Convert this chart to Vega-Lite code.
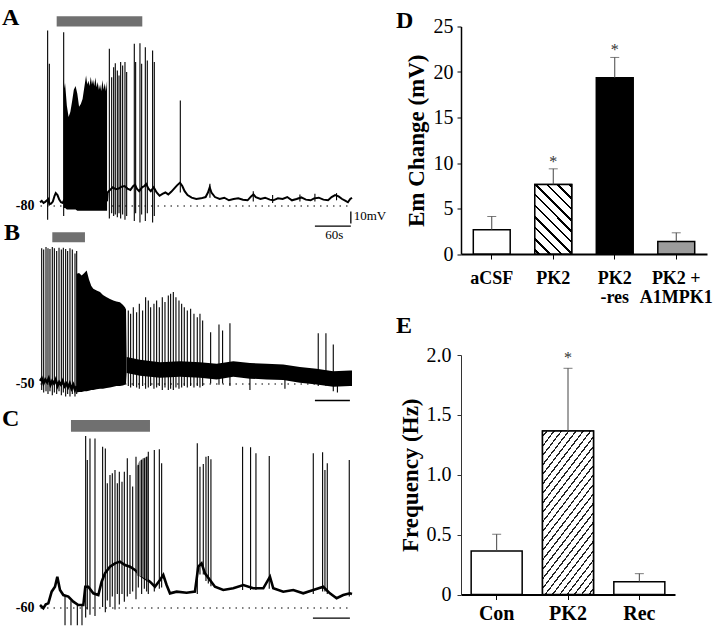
{
  "$schema": "https://vega.github.io/schema/vega-lite/v6.json",
  "padding": {"left": 2, "top": 5.5, "right": 2, "bottom": 0},
  "background": "#ffffff",
  "config": {"view": {"stroke": null}, "font": "Liberation Serif"},
  "spacing": 9,
  "hconcat": [
    {
      "bounds": "flush",
      "spacing": 10,
      "vconcat": [
        {
          "width": 312, "height": 192,
          "title": {"text": "A", "anchor": "start", "frame": "group", "dx": -38, "dy": 33.1, "offset": 0, "baseline": "alphabetic", "fontSize": 24, "font": "Liberation Serif", "fontWeight": "bold", "color": "#000"},
          "encoding": {
            "x": {"field": "t", "type": "quantitative", "scale": {"domain": [0, 535], "nice": false, "zero": false}, "axis": null},
            "y": {"field": "v", "type": "quantitative", "scale": {"domain": [-90, 57.69], "nice": false, "zero": false}, "axis": {"values": [-80], "title": null, "domain": false, "ticks": false, "tickSize": 0, "grid": true, "gridDash": [1.5, 5], "gridColor": "#000", "gridWidth": 1.2, "labelExpr": "'' + datum.value", "labelFont": "Liberation Serif", "labelFontSize": 14, "labelFontWeight": "bold", "labelColor": "#000", "labelPadding": 6}}
          },
          "layer": [
            {"data": {"values": [
              {"t":0,"v":-77.5},{"t":3,"v":-76.5},{"t":6,"v":-78},{"t":9,"v":-77.2},{"t":12,"v":-76},{"t":14,"v":-75},{"t":16,"v":-79},{"t":19,"v":-78.5},{"t":22,"v":-77},{"t":25,"v":-72.5},{"t":27,"v":-70.5},{"t":30,"v":-72},{"t":33,"v":-75.5},{"t":36,"v":-77.5},{"t":39,"v":-78},{"t":41,"v":-76},{"t":60,"v":-78},{"t":90,"v":-78},{"t":115,"v":-76},
              {"t":116,"v":-70},{"t":120,"v":-68},{"t":125,"v":-66},{"t":130,"v":-67.5},{"t":135,"v":-67},{"t":140,"v":-65.5},{"t":145,"v":-65},{"t":150,"v":-67},{"t":155,"v":-68},{"t":160,"v":-65},{"t":163,"v":-64},{"t":166,"v":-67},{"t":170,"v":-69},{"t":175,"v":-66},{"t":179,"v":-65},{"t":182,"v":-63.5},{"t":186,"v":-67},{"t":190,"v":-69},{"t":195,"v":-66},{"t":200,"v":-70},{"t":205,"v":-72.5},{"t":210,"v":-71},{"t":215,"v":-70},{"t":220,"v":-71.5},{"t":225,"v":-69.5},{"t":230,"v":-67},{"t":235,"v":-64.5},{"t":240,"v":-62.5},{"t":244,"v":-65},{"t":248,"v":-69},{"t":253,"v":-72},{"t":260,"v":-74},{"t":268,"v":-75},{"t":276,"v":-74.5},{"t":284,"v":-73.5},{"t":288,"v":-70},{"t":291,"v":-66},{"t":294,"v":-70},{"t":300,"v":-73.5},{"t":308,"v":-75},{"t":316,"v":-74},{"t":324,"v":-76},{"t":332,"v":-75},{"t":340,"v":-74.5},{"t":348,"v":-75.5},{"t":356,"v":-76},{"t":362,"v":-73},{"t":366,"v":-71.5},{"t":370,"v":-73.5},{"t":378,"v":-75},{"t":386,"v":-74},{"t":394,"v":-75.5},{"t":400,"v":-76},{"t":408,"v":-74.5},{"t":416,"v":-75},{"t":424,"v":-73.5},{"t":432,"v":-76},{"t":440,"v":-75},{"t":448,"v":-73.8},{"t":456,"v":-75.5},{"t":464,"v":-76},{"t":470,"v":-74.5},{"t":478,"v":-74},{"t":486,"v":-75.5},{"t":494,"v":-76},{"t":500,"v":-73.5},{"t":506,"v":-72},{"t":512,"v":-73},{"t":518,"v":-75},{"t":524,"v":-76.5},{"t":528,"v":-77.5},{"t":532,"v":-75},{"t":535,"v":-74}
            ]}, "mark": {"type": "line", "color": "#000", "strokeWidth": 2}},
            {"data": {"values": [
              {"t":40.6,"v":-82,"v2":18},{"t":42,"v":-82,"v2":10},{"t":43,"v":-82,"v2":14},{"t":46,"v":-83,"v2":-3},{"t":49,"v":-83,"v2":-12},{"t":52,"v":-83,"v2":-8},{"t":55,"v":-83,"v2":0},{"t":58,"v":-83,"v2":9},{"t":61,"v":-83,"v2":12},{"t":64,"v":-84,"v2":6},{"t":67,"v":-84,"v2":-4},{"t":70,"v":-84,"v2":-2},{"t":73,"v":-84,"v2":2},{"t":76,"v":-84,"v2":11},{"t":79,"v":-84,"v2":20},{"t":81,"v":-84,"v2":13},{"t":83,"v":-84,"v2":16},{"t":85,"v":-84,"v2":12},{"t":87,"v":-84,"v2":19},{"t":89,"v":-84,"v2":13},{"t":91,"v":-84,"v2":17},{"t":93,"v":-84,"v2":12},{"t":95,"v":-84,"v2":18.5},{"t":97,"v":-84,"v2":11},{"t":99,"v":-84,"v2":15},{"t":101,"v":-84,"v2":9},{"t":103,"v":-84,"v2":13},{"t":105,"v":-84,"v2":8},{"t":107,"v":-84,"v2":16.5},{"t":109,"v":-84,"v2":9},{"t":111,"v":-84,"v2":14},{"t":113,"v":-84,"v2":8},{"t":115,"v":-84,"v2":16}
            ]}, "mark": {"type": "area", "color": "#000"}, "encoding": {"y2": {"field": "v2"}}},
            {"data": {"values": [
              {"t":13.1,"v":-91,"v2":54.6},{"t":16,"v":-80,"v2":29},{"t":40.6,"v":-88,"v2":53.3},
              {"t":118.9,"v":-90,"v2":40.5},{"t":122.9,"v":-86,"v2":18.7},{"t":126.3,"v":-88,"v2":26.4},{"t":129.1,"v":-87,"v2":29.5},{"t":132.6,"v":-89,"v2":23.9},{"t":135.5,"v":-86,"v2":20},{"t":138.3,"v":-90,"v2":30.3},{"t":141.7,"v":-87,"v2":27.7},{"t":145.7,"v":-91,"v2":30.3},{"t":148.6,"v":-88,"v2":22.6},
              {"t":161.7,"v":-92,"v2":44.4},{"t":164,"v":-86,"v2":30.3},{"t":171.4,"v":-93,"v2":44.9},{"t":174.3,"v":-87,"v2":29},{"t":180.6,"v":-92,"v2":41.8},{"t":184,"v":-86,"v2":31.5},{"t":193.1,"v":-93,"v2":39.2},{"t":196,"v":-88,"v2":30.3},
              {"t":240.6,"v":-70,"v2":0.8},{"t":291.4,"v":-74,"v2":-63.3},{"t":365.7,"v":-77,"v2":-69},{"t":398.9,"v":-78,"v2":-72},{"t":445.7,"v":-77,"v2":-71.5},{"t":471.4,"v":-77,"v2":-71},{"t":508.5,"v":-76,"v2":-70.5}
            ]}, "mark": {"type": "rule", "color": "#000", "strokeWidth": 1.1}, "encoding": {"y2": {"field": "v2"}}},
            {"data": {"values": [{"t":28.6,"t2":175.4,"v":57.7,"v2":65.6}]}, "mark": {"type": "rect", "color": "#707070"}, "encoding": {"x2": {"field": "t2"}, "y2": {"field": "v2"}}},
            {"data": {"values": [{"t":533,"t2":533,"v":-84.6,"v2":-93.8},{"t":471.4,"t2":533,"v":-95.9,"v2":-95.9}]}, "mark": {"type": "rule", "color": "#000", "strokeWidth": 1.3}, "encoding": {"x2": {"field": "t2"}, "y2": {"field": "v2"}}},
            {"data": {"values": [{"t":538,"v":-91,"label":"10mV"},{"t":489,"v":-105.4,"label":"60s"}]}, "mark": {"type": "text", "align": "left", "baseline": "alphabetic", "fontSize": 13, "font": "Liberation Serif", "color": "#000"}, "encoding": {"text": {"field": "label"}}}
          ]
        },
        {
          "width": 312, "height": 180,
          "title": {"text": "B", "anchor": "start", "frame": "group", "dx": -36, "dy": 35.5, "offset": 0, "baseline": "alphabetic", "fontSize": 24, "font": "Liberation Serif", "fontWeight": "bold", "color": "#000"},
          "encoding": {
            "x": {"field": "t", "type": "quantitative", "scale": {"domain": [0, 535], "nice": false, "zero": false}, "axis": null},
            "y": {"field": "v", "type": "quantitative", "scale": {"domain": [-69.25, 69.25], "nice": false, "zero": false}, "axis": {"values": [-50], "title": null, "domain": false, "ticks": false, "tickSize": 0, "grid": true, "gridDash": [1.5, 5], "gridColor": "#000", "gridWidth": 1.2, "labelExpr": "'' + datum.value", "labelFont": "Liberation Serif", "labelFontSize": 14, "labelFontWeight": "bold", "labelColor": "#000", "labelPadding": 6}}
          },
          "layer": [
            {"data": {"values": [
              {"t":0,"v":-48},{"t":3,"v":-46},{"t":6,"v":-50},{"t":9,"v":-47},{"t":12,"v":-49},{"t":15,"v":-46},{"t":18,"v":-51},{"t":21,"v":-48},{"t":24,"v":-50},{"t":27,"v":-47},{"t":30,"v":-52},{"t":33,"v":-49},{"t":36,"v":-51},{"t":39,"v":-48},{"t":42,"v":-52},{"t":45,"v":-50},{"t":48,"v":-53},{"t":51,"v":-50},{"t":54,"v":-54},{"t":57,"v":-51},{"t":60,"v":-55},{"t":63,"v":-52}
            ]}, "mark": {"type": "line", "color": "#000", "strokeWidth": 2.5}},
            {"data": {"values": [
              {"t":62.9,"v":-57,"v2":34.4},{"t":67,"v":-56.5,"v2":35},{"t":71.4,"v":-56.5,"v2":33.1},{"t":76,"v":-56,"v2":35},{"t":80,"v":-56,"v2":37},{"t":84,"v":-55.5,"v2":30},{"t":88,"v":-55,"v2":25},{"t":91.4,"v":-55,"v2":22.8},{"t":97,"v":-54.5,"v2":21.5},{"t":102.9,"v":-54,"v2":20.3},{"t":108,"v":-54,"v2":18},{"t":114.3,"v":-53.5,"v2":16.4},{"t":120,"v":-53,"v2":15},{"t":125.7,"v":-52.5,"v2":13.8},{"t":131,"v":-52,"v2":13},{"t":137.1,"v":-52,"v2":12.6},{"t":142,"v":-51.5,"v2":10.5},{"t":145.7,"v":-51,"v2":8.7},{"t":147.5,"v":-50,"v2":7},{"t":148.5,"v":-42,"v2":-29.7}
            ]}, "mark": {"type": "area", "color": "#000"}, "encoding": {"y2": {"field": "v2"}}},
            {"data": {"values": [
              {"t":148.6,"v":-42,"v2":-29.7},{"t":171.4,"v":-44,"v2":-31.8},{"t":205.7,"v":-45.6,"v2":-33.6},{"t":240,"v":-44.8,"v2":-32.8},{"t":274.3,"v":-45.6,"v2":-33.6},{"t":302.9,"v":-46.9,"v2":-34.9},{"t":331.4,"v":-44.8,"v2":-32.8},{"t":360,"v":-46.3,"v2":-34.3},{"t":388.6,"v":-46.9,"v2":-34.9},{"t":417.1,"v":-47.4,"v2":-35.4},{"t":445.7,"v":-49.4,"v2":-37.4},{"t":474.3,"v":-50.7,"v2":-38.7},{"t":502.9,"v":-52.5,"v2":-40.5},{"t":531.4,"v":-52,"v2":-40},{"t":535,"v":-52,"v2":-40}
            ]}, "mark": {"type": "area", "color": "#000"}, "encoding": {"y2": {"field": "v2"}}},
            {"data": {"values": [
              {"t":2.9,"v":-55,"v2":54},{"t":6.3,"v":-57,"v2":53},{"t":10.3,"v":-56,"v2":55},{"t":13.7,"v":-58,"v2":54},{"t":17.1,"v":-56,"v2":53.5},{"t":21.1,"v":-59,"v2":55},{"t":24.6,"v":-57,"v2":54},{"t":28.6,"v":-58,"v2":52},{"t":32.6,"v":-56,"v2":54.5},{"t":36.6,"v":-59,"v2":53},{"t":40,"v":-57,"v2":54.5},{"t":44,"v":-60,"v2":53.5},{"t":47.4,"v":-58,"v2":52},{"t":51.4,"v":-60,"v2":54},{"t":55.4,"v":-58,"v2":53},{"t":60,"v":-60,"v2":50},{"t":62.9,"v":-58,"v2":52},
              {"t":151.4,"v":-52,"v2":6.2},{"t":155.4,"v":-53,"v2":3.6},{"t":160,"v":-52,"v2":8.7},{"t":165.7,"v":-53,"v2":4.9},{"t":170.3,"v":-54,"v2":11.3},{"t":176,"v":-52,"v2":6.2},{"t":181.1,"v":-54,"v2":16.4},{"t":185.7,"v":-53,"v2":13.8},{"t":189.7,"v":-52,"v2":8.7},{"t":195.4,"v":-54,"v2":11.3},{"t":200,"v":-53,"v2":13.8},{"t":204.6,"v":-52,"v2":8.7},{"t":209.7,"v":-55,"v2":16.4},{"t":214.3,"v":-53,"v2":12.6},{"t":220,"v":-55,"v2":17.7},{"t":224,"v":-54,"v2":19},{"t":228.6,"v":-55,"v2":20.3},{"t":233.1,"v":-53,"v2":16.4},{"t":238.3,"v":-54,"v2":13.8},{"t":242.9,"v":-53,"v2":11.3},{"t":247.4,"v":-52,"v2":8.7},{"t":252.6,"v":-53,"v2":6.2},{"t":258.3,"v":-52,"v2":7.5},{"t":264,"v":-53,"v2":3.6},{"t":269.7,"v":-52,"v2":1},{"t":274.3,"v":-53,"v2":3.6},{"t":278.9,"v":-52,"v2":-1.5},{"t":292.6,"v":-50,"v2":-10.5},{"t":306.9,"v":-51,"v2":-4.6},{"t":313.1,"v":-50,"v2":-9.2},{"t":325.7,"v":-52,"v2":-3.6},{"t":360,"v":-55,"v2":-40},{"t":420,"v":-54,"v2":-40},{"t":477.1,"v":-52,"v2":-11.3},{"t":490.3,"v":-52,"v2":-11.3},{"t":502.9,"v":-56,"v2":-20},{"t":510,"v":-57,"v2":-45}
            ]}, "mark": {"type": "rule", "color": "#000", "strokeWidth": 1.1}, "encoding": {"y2": {"field": "v2"}}},
            {"data": {"values": [{"t":21.1,"t2":77.1,"v":58.7,"v2":66.4}]}, "mark": {"type": "rect", "color": "#707070"}, "encoding": {"x2": {"field": "t2"}, "y2": {"field": "v2"}}},
            {"data": {"values": [{"t":471.4,"t2":531.4,"v":-63.1,"v2":-63.1}]}, "mark": {"type": "rule", "color": "#000", "strokeWidth": 1.3}, "encoding": {"x2": {"field": "t2"}, "y2": {"field": "v2"}}}
          ]
        },
        {
          "width": 312, "height": 208,
          "title": {"text": "C", "anchor": "start", "frame": "group", "dx": -38, "dy": 31.5, "offset": 0, "baseline": "alphabetic", "fontSize": 24, "font": "Liberation Serif", "fontWeight": "bold", "color": "#000"},
          "encoding": {
            "x": {"field": "t", "type": "quantitative", "scale": {"domain": [0, 535], "nice": false, "zero": false}, "axis": null},
            "y": {"field": "v", "type": "quantitative", "scale": {"domain": [-75, 85], "nice": false, "zero": false}, "axis": {"values": [-60], "title": null, "domain": false, "ticks": false, "tickSize": 0, "grid": true, "gridDash": [1.5, 5], "gridColor": "#000", "gridWidth": 1.2, "labelExpr": "'' + datum.value", "labelFont": "Liberation Serif", "labelFontSize": 14, "labelFontWeight": "bold", "labelColor": "#000", "labelPadding": 6}}
          },
          "layer": [
            {"data": {"values": [
              {"t":0,"v":-58.5},{"t":5.7,"v":-61},{"t":10,"v":-58},{"t":14.3,"v":-57.2},{"t":20,"v":-48.2},{"t":25.7,"v":-44.4},{"t":29.7,"v":-36.7},{"t":34.3,"v":-46.9},{"t":40,"v":-50.8},{"t":48.6,"v":-52},{"t":57.1,"v":-55.9},{"t":65.7,"v":-58.5},{"t":74.3,"v":-58.5},{"t":77.7,"v":-44.4},{"t":82.9,"v":-44.4},{"t":91.4,"v":-49.5},{"t":100,"v":-50.8},{"t":105.7,"v":-40.5},{"t":111.4,"v":-34.1},{"t":120,"v":-29},{"t":128.6,"v":-26.4},{"t":137.1,"v":-25.1},{"t":145.7,"v":-27.7},{"t":154.3,"v":-29},{"t":162.9,"v":-31.5},{"t":171.4,"v":-35.4},{"t":180,"v":-38},{"t":188.6,"v":-40.5},{"t":197.1,"v":-44.4},{"t":205.7,"v":-39.2},{"t":211.4,"v":-35.4},{"t":217.1,"v":-43.1},{"t":222.9,"v":-49.5},{"t":234.3,"v":-48.2},{"t":251.4,"v":-49},{"t":265.7,"v":-48.2},{"t":271.4,"v":-29},{"t":277.1,"v":-26.4},{"t":282.9,"v":-34.1},{"t":291.4,"v":-39.2},{"t":300,"v":-44.4},{"t":314.3,"v":-46.9},{"t":331.4,"v":-45.6},{"t":348.6,"v":-43.1},{"t":365.7,"v":-45.6},{"t":382.9,"v":-45.6},{"t":394.3,"v":-36.7},{"t":400,"v":-45.6},{"t":417.1,"v":-48.2},{"t":434.3,"v":-46.9},{"t":451.4,"v":-49.5},{"t":468.6,"v":-46.9},{"t":485.7,"v":-44.4},{"t":497.1,"v":-49.5},{"t":508.6,"v":-53.3},{"t":520,"v":-50.8},{"t":531.4,"v":-49.5},{"t":535,"v":-50}
            ]}, "mark": {"type": "line", "color": "#000", "strokeWidth": 2.6}},
            {"data": {"values": [
              {"t":166,"v":-36,"v2":48},{"t":170,"v":-36,"v2":52},{"t":175,"v":-37,"v2":54},{"t":180,"v":-38,"v2":55},{"t":185,"v":-40,"v2":56}
            ]}, "mark": {"type": "area", "color": "#8a8a8a"}, "encoding": {"y2": {"field": "v2"}}},
            {"data": {"values": [
              {"t":42.9,"v":-74,"v2":-51},{"t":53.1,"v":-74,"v2":-55},{"t":64,"v":-74,"v2":-58},{"t":72,"v":-74,"v2":-58.5},
              {"t":78.3,"v":-68,"v2":71.5},{"t":81.1,"v":-62,"v2":53.1},{"t":85.7,"v":-66,"v2":69.7},{"t":94.3,"v":-67,"v2":69.7},{"t":107.4,"v":-60,"v2":63.3},{"t":112,"v":-64,"v2":62},{"t":115.4,"v":-55,"v2":35.1},{"t":120,"v":-60,"v2":41.5},{"t":124,"v":-52,"v2":42.8},{"t":128.6,"v":-62,"v2":45.4},{"t":132.6,"v":-50,"v2":35.1},{"t":136,"v":-58,"v2":44.1},{"t":140.6,"v":-50,"v2":36.4},{"t":144.6,"v":-56,"v2":44.1},{"t":149.7,"v":-52,"v2":54.4},{"t":154.3,"v":-50,"v2":41.5},{"t":158.9,"v":-48,"v2":32.6},{"t":164.6,"v":-54,"v2":55.6},{"t":168.6,"v":-45,"v2":49.2},{"t":174.3,"v":-50,"v2":53.1},{"t":178.9,"v":-46,"v2":54.4},{"t":182.9,"v":-48,"v2":55.6},{"t":185.7,"v":-50,"v2":59.5},{"t":196,"v":-48,"v2":60.8},{"t":204.6,"v":-46,"v2":61.3},{"t":208.6,"v":-45,"v2":50.5},
              {"t":269.7,"v":-50,"v2":65.9},{"t":274.3,"v":-35,"v2":47.9},{"t":280,"v":-35,"v2":50},{"t":284.6,"v":-40,"v2":55.6},{"t":288.6,"v":-42,"v2":56.1},{"t":293.1,"v":-44,"v2":53.6},
              {"t":347.4,"v":-47,"v2":63.3},{"t":361.1,"v":-47,"v2":62.8},{"t":370.3,"v":-47,"v2":58.2},{"t":393.1,"v":-46,"v2":56.1},{"t":468.6,"v":-50,"v2":58.2},{"t":484.6,"v":-48,"v2":59},{"t":488.6,"v":-48,"v2":45.4},{"t":492.6,"v":-50,"v2":50.5},{"t":530.3,"v":-52,"v2":53.1}
            ]}, "mark": {"type": "rule", "color": "#000", "strokeWidth": 1.1}, "encoding": {"y2": {"field": "v2"}}},
            {"data": {"values": [{"t":53.1,"t2":188.6,"v":74.9,"v2":83.8}]}, "mark": {"type": "rect", "color": "#707070"}, "encoding": {"x2": {"field": "t2"}, "y2": {"field": "v2"}}},
            {"data": {"values": [{"t":468,"t2":531.4,"v":-68.5,"v2":-68.5}]}, "mark": {"type": "rule", "color": "#000", "strokeWidth": 1.3}, "encoding": {"x2": {"field": "t2"}, "y2": {"field": "v2"}}}
          ]
        }
      ]
    },
    {
      "bounds": "flush",
      "spacing": 100.5,
      "vconcat": [
        {
          "width": 246, "height": 227.5,
          "title": {"text": "D", "anchor": "start", "frame": "group", "dx": -65, "dy": 35.5, "offset": 0, "baseline": "alphabetic", "fontSize": 24, "font": "Liberation Serif", "fontWeight": "bold", "color": "#000"},
          "data": {"values": [
            {"group": "aCSF", "mean": 2.66, "upper": 4.12, "star": ""},
            {"group": "PK2", "mean": 7.64, "upper": 9.36, "star": "*"},
            {"group": "PK2-res", "mean": 19.36, "upper": 21.6, "star": "*"},
            {"group": "PK2+A1MPK1", "mean": 1.37, "upper": 2.33, "star": ""}
          ]},
          "encoding": {
            "x": {"field": "group", "type": "nominal", "sort": ["aCSF", "PK2", "PK2-res", "PK2+A1MPK1"], "scale": {"paddingInner": 0.4, "paddingOuter": 0.2}, "axis": {"title": null, "labelAngle": 0, "bandPosition": 0.5, "domainColor": "#000", "domainWidth": 2, "tickColor": "#000", "tickSize": 5, "tickWidth": 1, "labelFont": "Liberation Serif", "labelFontSize": 18, "labelFontWeight": "bold", "labelColor": "#000", "labelPadding": 10, "labelLineHeight": 19, "labelExpr": "datum.value == 'PK2-res' ? ['PK2', '-res'] : datum.value == 'PK2+A1MPK1' ? ['PK2 +', 'A1MPK1'] : datum.label"}}
          },
          "layer": [
            {"mark": {"type": "bar", "stroke": "#000", "strokeWidth": 1.5}, "encoding": {
              "y": {"field": "mean", "type": "quantitative", "title": "Em Change (mV)", "scale": {"domain": [0, 25], "nice": false}, "axis": {"values": [0, 5, 10, 15, 20, 25], "grid": false, "domainColor": "#000", "domainWidth": 1.5, "tickColor": "#000", "tickSize": 4, "labelFont": "Liberation Serif", "labelFontSize": 20, "labelColor": "#000", "labelPadding": 4, "titleFont": "Liberation Serif", "titleFontSize": 23, "titleFontWeight": "bold", "titleColor": "#000", "titlePadding": 5}},
              "fill": {"field": "group", "type": "nominal", "scale": {"domain": ["aCSF", "PK2", "PK2-res", "PK2+A1MPK1"], "range": ["#ffffff", "#ffffff", "#000000", "#9c9c9c"]}, "legend": null}
            }},
            {"transform": [{"filter": "datum.group === 'PK2'"}], "mark": {"type": "bar", "stroke": "#000", "strokeWidth": 1.5, "fill": {"gradient": "linear", "x1": 0, "y1": 1, "x2": 0.634, "y2": -0.194, "stops": [
              {"offset": 0, "color": "#fff"}, {"offset": 0.030, "color": "#fff"}, {"offset": 0.030, "color": "#000"}, {"offset": 0.056, "color": "#000"}, {"offset": 0.056, "color": "#fff"},
              {"offset": 0.133, "color": "#fff"}, {"offset": 0.133, "color": "#000"}, {"offset": 0.160, "color": "#000"}, {"offset": 0.160, "color": "#fff"},
              {"offset": 0.237, "color": "#fff"}, {"offset": 0.237, "color": "#000"}, {"offset": 0.263, "color": "#000"}, {"offset": 0.263, "color": "#fff"},
              {"offset": 0.340, "color": "#fff"}, {"offset": 0.340, "color": "#000"}, {"offset": 0.366, "color": "#000"}, {"offset": 0.366, "color": "#fff"},
              {"offset": 0.444, "color": "#fff"}, {"offset": 0.444, "color": "#000"}, {"offset": 0.470, "color": "#000"}, {"offset": 0.470, "color": "#fff"},
              {"offset": 0.547, "color": "#fff"}, {"offset": 0.547, "color": "#000"}, {"offset": 0.573, "color": "#000"}, {"offset": 0.573, "color": "#fff"},
              {"offset": 0.650, "color": "#fff"}, {"offset": 0.650, "color": "#000"}, {"offset": 0.677, "color": "#000"}, {"offset": 0.677, "color": "#fff"},
              {"offset": 0.754, "color": "#fff"}, {"offset": 0.754, "color": "#000"}, {"offset": 0.780, "color": "#000"}, {"offset": 0.780, "color": "#fff"},
              {"offset": 0.857, "color": "#fff"}, {"offset": 0.857, "color": "#000"}, {"offset": 0.883, "color": "#000"}, {"offset": 0.883, "color": "#fff"},
              {"offset": 0.961, "color": "#fff"}, {"offset": 0.961, "color": "#000"}, {"offset": 0.987, "color": "#000"}, {"offset": 0.987, "color": "#fff"},
              {"offset": 1, "color": "#fff"}
            ]}}, "encoding": {"y": {"field": "mean", "type": "quantitative", "title": "Em Change (mV)"}}},
            {"mark": {"type": "rule", "color": "#444", "strokeWidth": 1}, "encoding": {"y": {"field": "mean", "type": "quantitative", "title": "Em Change (mV)"}, "y2": {"field": "upper"}}},
            {"mark": {"type": "tick", "orient": "horizontal", "size": 9, "thickness": 1, "color": "#444"}, "encoding": {"y": {"field": "upper", "type": "quantitative", "title": "Em Change (mV)"}}},
            {"mark": {"type": "text", "fontSize": 16, "font": "Liberation Serif", "baseline": "alphabetic", "dy": -2, "color": "#333"}, "encoding": {"y": {"field": "upper", "type": "quantitative", "title": "Em Change (mV)"}, "text": {"field": "star"}}}
          ]
        },
        {
          "width": 214, "height": 239.5,
          "title": {"text": "E", "anchor": "start", "frame": "group", "dx": -65, "dy": 12, "offset": 0, "baseline": "alphabetic", "fontSize": 24, "font": "Liberation Serif", "fontWeight": "bold", "color": "#000"},
          "data": {"values": [
            {"group": "Con", "mean": 0.363, "upper": 0.503, "star": ""},
            {"group": "PK2", "mean": 1.365, "upper": 1.889, "star": "*"},
            {"group": "Rec", "mean": 0.107, "upper": 0.174, "star": ""}
          ]},
          "encoding": {
            "x": {"field": "group", "type": "nominal", "sort": ["Con", "PK2", "Rec"], "scale": {"paddingInner": 0.285, "paddingOuter": 0.1425}, "axis": {"title": null, "labelAngle": 0, "bandPosition": 0.5, "domainColor": "#000", "domainWidth": 2, "tickColor": "#000", "tickSize": 5, "tickWidth": 1, "labelFont": "Liberation Serif", "labelFontSize": 20, "labelFontWeight": "bold", "labelColor": "#000", "labelPadding": 4}}
          },
          "layer": [
            {"mark": {"type": "bar", "stroke": "#000", "strokeWidth": 1.5}, "encoding": {
              "y": {"field": "mean", "type": "quantitative", "title": "Frequency (Hz)", "scale": {"domain": [0, 2], "nice": false}, "axis": {"values": [0, 0.5, 1, 1.5, 2], "labelExpr": "datum.value == 0 ? '0' : format(datum.value, '.1f')", "grid": false, "domainColor": "#333", "domainWidth": 1, "tickColor": "#333", "tickSize": 4, "labelFont": "Liberation Serif", "labelFontSize": 20, "labelColor": "#000", "labelPadding": 6, "titleFont": "Liberation Serif", "titleFontSize": 23, "titleFontWeight": "bold", "titleColor": "#000", "titlePadding": 4}},
              "fill": {"field": "group", "type": "nominal", "scale": {"domain": ["Con", "PK2", "Rec"], "range": ["#ffffff", "#ffffff", "#000000"]}, "legend": null}
            }},
            {"transform": [{"filter": "datum.group === 'PK2'"}], "mark": {"type": "bar", "stroke": "#000", "strokeWidth": 1.5, "fill": {"gradient": "linear", "x1": 0, "y1": 0, "x2": 0.4894, "y2": 1.207, "stops": [
              {"offset": 0, "color": "#fff"},
              {"offset": 0.0200, "color": "#fff"}, {"offset": 0.0200, "color": "#222"}, {"offset": 0.0290, "color": "#222"}, {"offset": 0.0290, "color": "#fff"},
              {"offset": 0.0613, "color": "#fff"}, {"offset": 0.0613, "color": "#222"}, {"offset": 0.0703, "color": "#222"}, {"offset": 0.0703, "color": "#fff"},
              {"offset": 0.1026, "color": "#fff"}, {"offset": 0.1026, "color": "#222"}, {"offset": 0.1116, "color": "#222"}, {"offset": 0.1116, "color": "#fff"},
              {"offset": 0.1439, "color": "#fff"}, {"offset": 0.1439, "color": "#222"}, {"offset": 0.1529, "color": "#222"}, {"offset": 0.1529, "color": "#fff"},
              {"offset": 0.1852, "color": "#fff"}, {"offset": 0.1852, "color": "#222"}, {"offset": 0.1942, "color": "#222"}, {"offset": 0.1942, "color": "#fff"},
              {"offset": 0.2265, "color": "#fff"}, {"offset": 0.2265, "color": "#222"}, {"offset": 0.2355, "color": "#222"}, {"offset": 0.2355, "color": "#fff"},
              {"offset": 0.2678, "color": "#fff"}, {"offset": 0.2678, "color": "#222"}, {"offset": 0.2768, "color": "#222"}, {"offset": 0.2768, "color": "#fff"},
              {"offset": 0.3091, "color": "#fff"}, {"offset": 0.3091, "color": "#222"}, {"offset": 0.3181, "color": "#222"}, {"offset": 0.3181, "color": "#fff"},
              {"offset": 0.3504, "color": "#fff"}, {"offset": 0.3504, "color": "#222"}, {"offset": 0.3594, "color": "#222"}, {"offset": 0.3594, "color": "#fff"},
              {"offset": 0.3917, "color": "#fff"}, {"offset": 0.3917, "color": "#222"}, {"offset": 0.4007, "color": "#222"}, {"offset": 0.4007, "color": "#fff"},
              {"offset": 0.4330, "color": "#fff"}, {"offset": 0.4330, "color": "#222"}, {"offset": 0.4420, "color": "#222"}, {"offset": 0.4420, "color": "#fff"},
              {"offset": 0.4743, "color": "#fff"}, {"offset": 0.4743, "color": "#222"}, {"offset": 0.4833, "color": "#222"}, {"offset": 0.4833, "color": "#fff"},
              {"offset": 0.5156, "color": "#fff"}, {"offset": 0.5156, "color": "#222"}, {"offset": 0.5246, "color": "#222"}, {"offset": 0.5246, "color": "#fff"},
              {"offset": 0.5569, "color": "#fff"}, {"offset": 0.5569, "color": "#222"}, {"offset": 0.5659, "color": "#222"}, {"offset": 0.5659, "color": "#fff"},
              {"offset": 0.5982, "color": "#fff"}, {"offset": 0.5982, "color": "#222"}, {"offset": 0.6072, "color": "#222"}, {"offset": 0.6072, "color": "#fff"},
              {"offset": 0.6395, "color": "#fff"}, {"offset": 0.6395, "color": "#222"}, {"offset": 0.6485, "color": "#222"}, {"offset": 0.6485, "color": "#fff"},
              {"offset": 0.6808, "color": "#fff"}, {"offset": 0.6808, "color": "#222"}, {"offset": 0.6898, "color": "#222"}, {"offset": 0.6898, "color": "#fff"},
              {"offset": 0.7221, "color": "#fff"}, {"offset": 0.7221, "color": "#222"}, {"offset": 0.7311, "color": "#222"}, {"offset": 0.7311, "color": "#fff"},
              {"offset": 0.7634, "color": "#fff"}, {"offset": 0.7634, "color": "#222"}, {"offset": 0.7724, "color": "#222"}, {"offset": 0.7724, "color": "#fff"},
              {"offset": 0.8047, "color": "#fff"}, {"offset": 0.8047, "color": "#222"}, {"offset": 0.8137, "color": "#222"}, {"offset": 0.8137, "color": "#fff"},
              {"offset": 0.8460, "color": "#fff"}, {"offset": 0.8460, "color": "#222"}, {"offset": 0.8550, "color": "#222"}, {"offset": 0.8550, "color": "#fff"},
              {"offset": 0.8873, "color": "#fff"}, {"offset": 0.8873, "color": "#222"}, {"offset": 0.8963, "color": "#222"}, {"offset": 0.8963, "color": "#fff"},
              {"offset": 0.9286, "color": "#fff"}, {"offset": 0.9286, "color": "#222"}, {"offset": 0.9376, "color": "#222"}, {"offset": 0.9376, "color": "#fff"},
              {"offset": 0.9699, "color": "#fff"}, {"offset": 0.9699, "color": "#222"}, {"offset": 0.9789, "color": "#222"}, {"offset": 0.9789, "color": "#fff"},
              {"offset": 1, "color": "#fff"}
            ]}}, "encoding": {"y": {"field": "mean", "type": "quantitative", "title": "Frequency (Hz)"}}},
            {"mark": {"type": "rule", "color": "#444", "strokeWidth": 1}, "encoding": {"y": {"field": "mean", "type": "quantitative", "title": "Frequency (Hz)"}, "y2": {"field": "upper"}}},
            {"mark": {"type": "tick", "orient": "horizontal", "size": 9, "thickness": 1, "color": "#444"}, "encoding": {"y": {"field": "upper", "type": "quantitative", "title": "Frequency (Hz)"}}},
            {"mark": {"type": "text", "fontSize": 16, "font": "Liberation Serif", "baseline": "alphabetic", "dy": -5, "color": "#333"}, "encoding": {"y": {"field": "upper", "type": "quantitative", "title": "Frequency (Hz)"}, "text": {"field": "star"}}}
          ]
        }
      ]
    }
  ]
}
